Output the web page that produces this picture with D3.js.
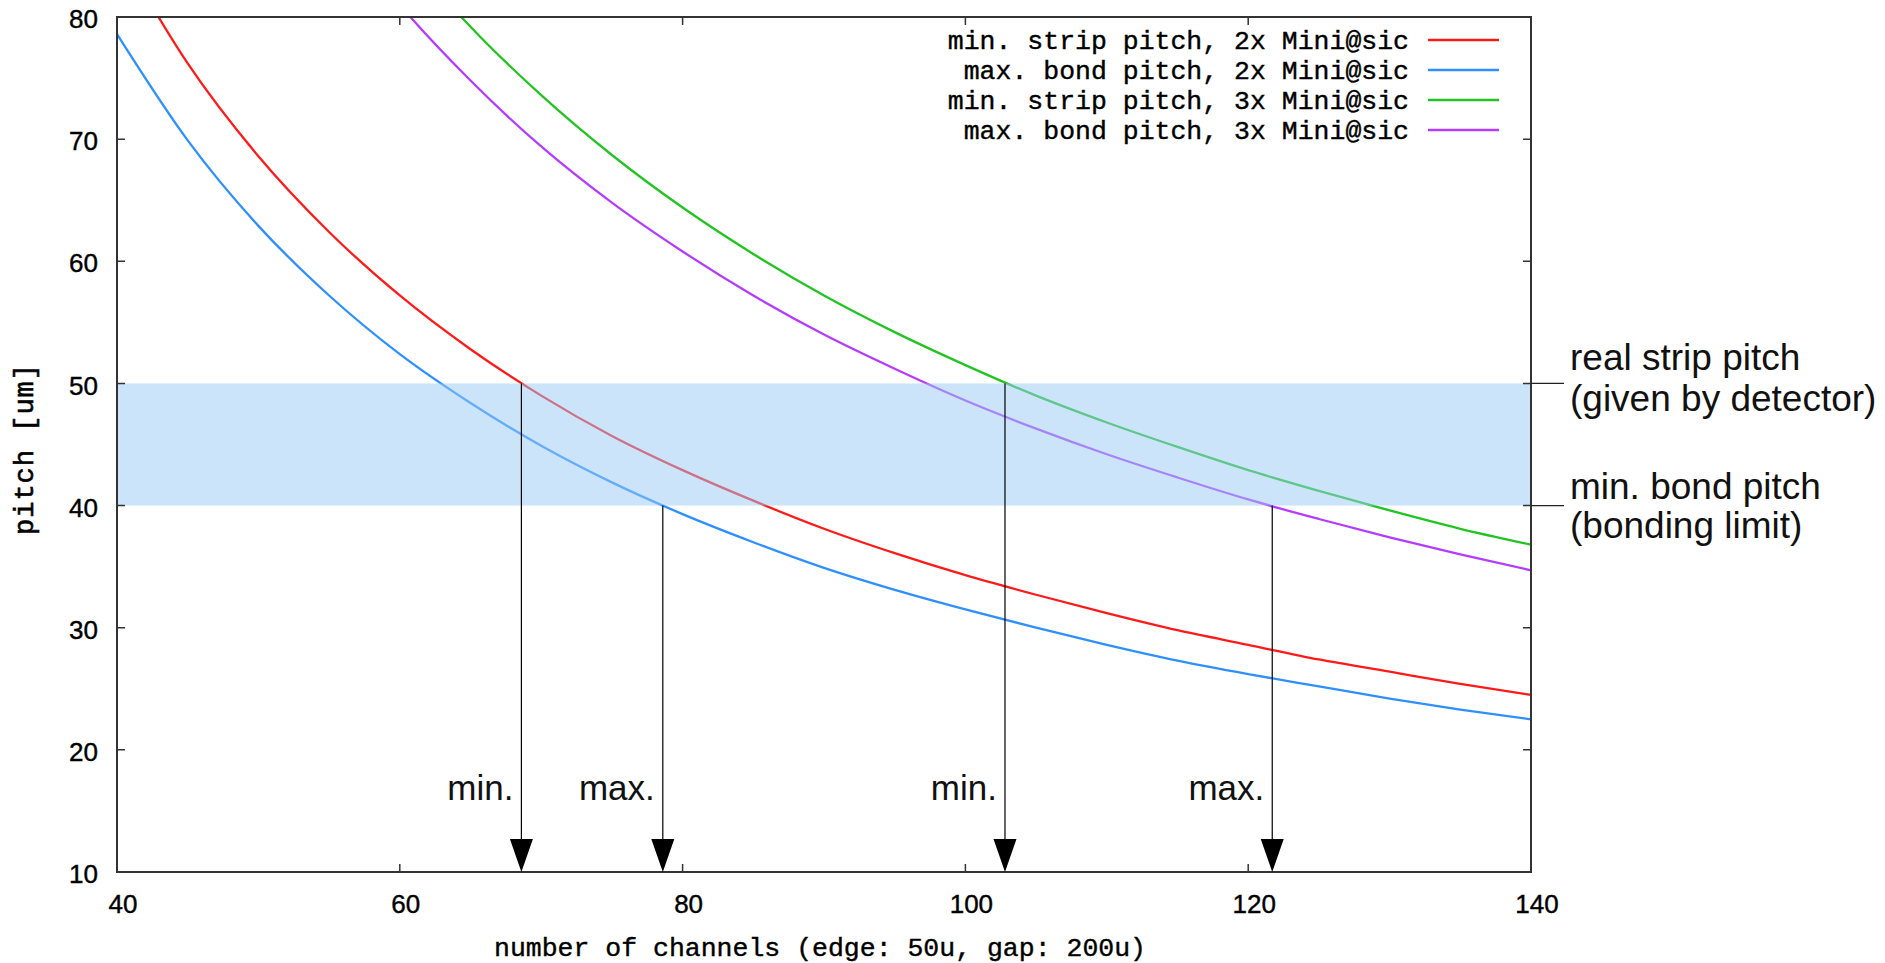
<!DOCTYPE html>
<meta charset="utf-8">
<script src="https://d3js.org/d3.v7.min.js"></script>
<style>
  body { margin: 0; background: #fff; }
  .mono { font-family: "Liberation Mono", "DejaVu Sans Mono", monospace; }
  .sans { font-family: "Liberation Sans", Arial, sans-serif; }
</style>
<div id="my_dataviz"></div>
<script>

var channels = [40, 45, 50, 55, 60, 65, 70, 75, 80, 85, 90, 95, 100, 105, 110, 115, 120, 125, 130, 135, 140];

// pitch values (um)
var minStrip2x = [85.8, 76.2, 68.6, 62.4, 57.2, 52.8, 49.0, 45.7, 42.9, 40.4, 38.1, 36.1, 34.3, 32.7, 31.2, 29.8, 28.6, 27.4, 26.4, 25.4, 24.5];
var maxBond2x  = [78.6, 69.9, 62.9, 57.2, 52.4, 48.4, 44.9, 41.9, 39.3, 37.0, 34.9, 33.1, 31.5, 30.0, 28.6, 27.3, 26.2, 25.2, 24.2, 23.3, 22.5];
var minStrip3x = [128.8, 114.4, 103.0, 93.6, 85.8, 79.2, 73.6, 68.7, 64.4, 60.6, 57.2, 54.2, 51.5, 49.0, 46.8, 44.8, 42.9, 41.2, 39.6, 38.1, 36.8];
var maxBond3x  = [121.5, 108.0, 97.2, 88.4, 81.0, 74.8, 69.4, 64.8, 60.8, 57.2, 54.0, 51.2, 48.6, 46.3, 44.2, 42.3, 40.5, 38.9, 37.4, 36.0, 34.7];

var seriesNames = ["min. strip pitch, 2x Mini@sic", "max. bond pitch, 2x Mini@sic",
                   "min. strip pitch, 3x Mini@sic", "max. bond pitch, 3x Mini@sic"];
var seriesColors = ["#ff1a1a", "#2e90ff", "#22c422", "#b53cff"];

// band between bonding limit and real strip pitch
var bandLow = 40, bandHigh = 50;
var bandLabels = [["real strip pitch", "(given by detector)"], ["min. bond pitch", "(bonding limit)"]];

// where the curves cross the band edges
var markerX = [68.6, 78.6, 102.8, 121.7];
var markerY = [50, 40, 50, 40];
var markerText = ["min.", "max.", "min.", "max."];

var xTicks = [40, 60, 80, 100, 120, 140];
var yTicks = [10, 20, 30, 40, 50, 60, 70, 80];

var W = 1885, H = 963;
var margin = {top: 17, right: 354, bottom: 91, left: 117};
var width = W - margin.left - margin.right,
    height = H - margin.top - margin.bottom;

var svg = d3.select("#my_dataviz").append("svg")
  .attr("width", W).attr("height", H);

var g = svg.append("g")
  .attr("transform", "translate(" + margin.left + "," + margin.top + ")");

var x = d3.scaleLinear().domain([40, 140]).range([0, width]);
var y = d3.scaleLinear().domain([10, 80]).range([height, 0]);

g.append("clipPath").attr("id", "plotclip")
  .append("rect").attr("width", width).attr("height", height);

// curves
var allSeries = [minStrip2x, maxBond2x, minStrip3x, maxBond3x];
var line = d3.line()
  .x(function(d, i) { return x(channels[i]); })
  .y(function(d) { return y(d); })
  .curve(d3.curveMonotoneX);

g.append("g").attr("clip-path", "url(#plotclip)")
  .selectAll("path").data(allSeries).enter()
  .append("path")
    .attr("fill", "none")
    .attr("stroke", function(d, i) { return seriesColors[i]; })
    .attr("stroke-width", 2.3)
    .attr("d", line);

// translucent band on top of curves
g.append("rect")
  .attr("x", 0).attr("width", width)
  .attr("y", y(bandHigh)).attr("height", y(bandLow) - y(bandHigh))
  .attr("fill", "#99c9f5").attr("opacity", 0.5);

// frame + ticks (gnuplot style, mirrored inward)
var tickLen = 8;
g.append("rect").attr("width", width).attr("height", height)
  .attr("fill", "none").attr("stroke", "#333").attr("stroke-width", 2);

g.selectAll(".xt").data(xTicks.slice(1, -1)).enter().append("path")
  .attr("d", function(d) { return "M" + x(d) + "," + height + "v" + (-tickLen) + "M" + x(d) + ",0v" + tickLen; })
  .attr("stroke", "#333").attr("stroke-width", 1.5);
g.selectAll(".yt").data(yTicks.slice(1, -1)).enter().append("path")
  .attr("d", function(d) { return "M0," + y(d) + "h" + tickLen + "M" + width + "," + y(d) + "h" + (-tickLen); })
  .attr("stroke", "#333").attr("stroke-width", 1.5);

g.selectAll(".xl").data(xTicks).enter().append("text")
  .attr("class", "sans")
  .attr("x", function(d) { return x(d) + 6; })
  .attr("y", height + 32)
  .attr("dy", "0.35em")
  .attr("text-anchor", "middle")
  .attr("font-size", 26)
  .attr("stroke", "#000").attr("stroke-width", 0.4)
  .text(function(d) { return d; });

g.selectAll(".yl").data(yTicks).enter().append("text")
  .attr("class", "sans")
  .attr("x", -19)
  .attr("y", function(d) { return y(d) + 2; })
  .attr("dy", "0.35em")
  .attr("text-anchor", "end")
  .attr("font-size", 26)
  .attr("stroke", "#000").attr("stroke-width", 0.4)
  .text(function(d) { return d; });

// axis titles
svg.append("text").attr("class", "mono")
  .attr("x", margin.left + width / 2 - 4)
  .attr("y", 947).attr("dy", "0.35em")
  .attr("text-anchor", "middle")
  .attr("font-size", 26.5)
  .attr("stroke", "#000").attr("stroke-width", 0.4)
  .text("number of channels (edge: 50u, gap: 200u)");

svg.append("text").attr("class", "mono")
  .attr("transform", "translate(24,449) rotate(-90)")
  .attr("dy", "0.35em")
  .attr("text-anchor", "middle")
  .attr("font-size", 27)
  .attr("letter-spacing", 1)
  .attr("stroke", "#000").attr("stroke-width", 0.6)
  .text("pitch [um]");

// legend
var legend = g.append("g").selectAll("g").data(seriesNames).enter().append("g")
  .attr("transform", function(d, i) { return "translate(0," + (23 + i * 30) + ")"; });
legend.append("text").attr("class", "mono")
  .attr("x", width - 122).attr("dy", "0.35em")
  .attr("text-anchor", "end").attr("font-size", 26.5)
  .attr("stroke", "#000").attr("stroke-width", 0.4)
  .text(function(d) { return d; });
legend.append("line")
  .attr("x1", width - 103).attr("x2", width - 32)
  .attr("stroke", function(d, i) { return seriesColors[i]; })
  .attr("stroke-width", 2.5);

// band edge labels on the right
[bandHigh, bandLow].forEach(function(v, i) {
  g.append("line")
    .attr("x1", width).attr("x2", width + 33)
    .attr("y1", y(v)).attr("y2", y(v))
    .attr("stroke", "#222").attr("stroke-width", 1.2);
  var off = i === 0 ? [-13, 28] : [-7, 32];
  bandLabels[i].forEach(function(t, j) {
    g.append("text").attr("class", "sans")
      .attr("x", width + 39).attr("y", y(v) + off[j])
      .attr("font-size", 37)
      .attr("fill", "#111")
      .text(t);
  });
});

// arrows from the crossings down to the x axis
var headW = 23, headH = 33;
markerX.forEach(function(mx, i) {
  var px = x(mx);
  g.append("line")
    .attr("x1", px).attr("x2", px)
    .attr("y1", y(markerY[i])).attr("y2", height - headH + 2)
    .attr("stroke", "#000").attr("stroke-width", 1.2);
  g.append("path")
    .attr("d", "M" + (px - headW / 2) + "," + (height - headH) + "L" + (px + headW / 2) + "," + (height - headH) + "L" + px + "," + height + "Z")
    .attr("fill", "#000");
  g.append("text").attr("class", "sans")
    .attr("x", px - 8).attr("y", height - 72)
    .attr("text-anchor", "end")
    .attr("font-size", 35)
    .attr("fill", "#111")
    .text(markerText[i]);
});

</script>
